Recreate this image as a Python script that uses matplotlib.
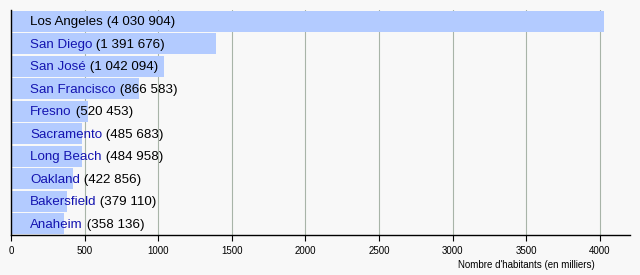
import matplotlib
matplotlib.use("Agg")
import matplotlib.pyplot as plt

cities = ["Los Angeles", "San Diego", "San José", "San Francisco", "Fresno",
          "Sacramento", "Long Beach", "Oakland", "Bakersfield", "Anaheim"]
population = [4030904, 1391676, 1042094, 866583, 520453,
              485683, 484958, 422856, 379110, 358136]
xticks = [0, 500, 1000, 1500, 2000, 2500, 3000, 3500, 4000]
xlabel = "Nombre d'habitants (en milliers)"

plt.rcParams['font.family'] = ['Liberation Sans', 'DejaVu Sans']
bg = '#f8f8f8'
fig = plt.figure(figsize=(6.4, 2.75), dpi=100, facecolor=bg)
ax = fig.add_axes([11/640, 1-235/275, 619/640, 225/275], facecolor=bg)

vals = [p/1000 for p in population]
ypos = list(range(len(cities)))
ax.barh(ypos, vals, height=0.93, color='#b3cbff', zorder=2)
ax.set_ylim(len(cities)-0.5, -0.5)
ax.set_xlim(0, 4205)
ax.set_xticks(xticks)
ax.set_xticklabels([str(t) for t in xticks], fontsize=7)
ax.tick_params(axis='x', length=4, width=0.8, pad=4, colors='black')
ax.set_yticks([])
ax.xaxis.grid(True, color='#a8b4a8', linewidth=0.8, zorder=1)
ax.set_axisbelow(True)
for s in ['top', 'right']:
    ax.spines[s].set_visible(False)
ax.spines['left'].set_linewidth(1.0)
ax.spines['bottom'].set_linewidth(1.0)

for i, (c, p) in enumerate(zip(cities, population)):
    col = 'black' if i == 0 else '#1414b0'
    t = ax.annotate(c, xy=(0, i), xytext=(19, -1), textcoords='offset pixels',
                    va='center', ha='left', fontsize=9.6, color=col, zorder=3)
    num = "(" + f"{p:,}".replace(",", " ") + ")"
    ax.annotate(" " + num, xy=(1, 0), xycoords=t, va='bottom', ha='left',
                fontsize=9.6, color='black', zorder=3)

fig.text(595/640, 1-265/275, xlabel, ha='right', va='center', fontsize=7)
fig.savefig("out.png", dpi=100, facecolor=bg)
